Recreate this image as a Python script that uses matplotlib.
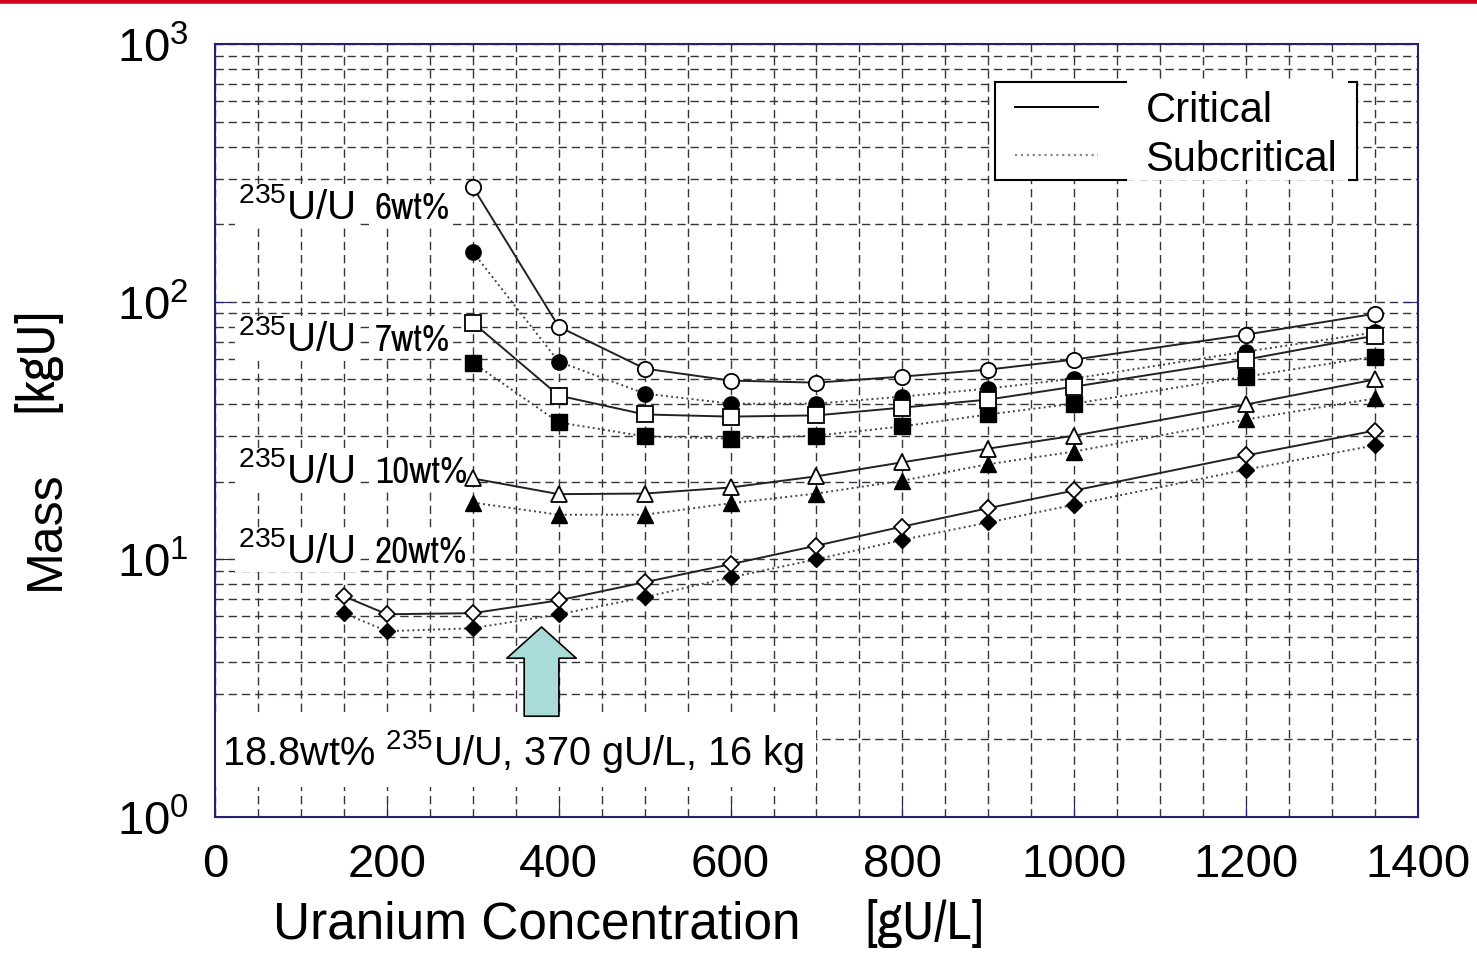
import numpy as np
import matplotlib
matplotlib.use("Agg")
import matplotlib.pyplot as plt
from matplotlib.ticker import MultipleLocator, LogLocator, NullFormatter
from matplotlib.lines import Line2D
from matplotlib.patches import Rectangle
from matplotlib import font_manager

plt.rcParams['font.family'] = ['Liberation Sans', 'DejaVu Sans']
plt.rcParams['mathtext.fontset'] = 'custom'
plt.rcParams['mathtext.rm'] = 'Liberation Sans'
plt.rcParams['mathtext.it'] = 'Liberation Sans'

# narrow font for the unit / wt% labels, if one is available
narrow = 'Liberation Sans'
for f in font_manager.fontManager.ttflist:
    if 'Condensed' in f.name or 'Narrow' in f.name:
        narrow = f.name
        break

# uranium concentration [gU/L]
conc = [300, 400, 500, 600, 700, 800, 900, 1000, 1200, 1350]
conc20 = [150, 200, 300, 400, 500, 600, 700, 800, 900, 1000, 1200, 1350]

# mass [kgU]
crit6 = [279, 80, 55, 49.4, 48.5, 51.2, 54.5, 59.6, 74.5, 89.8]
sub6 = [156, 58.5, 44, 40.2, 40.2, 42.8, 46, 50.3, 64, 76]
crit7 = [83, 43.2, 36.5, 35.8, 36.2, 38.8, 41.7, 46.8, 59.6, 73.8]
sub7 = [58, 34, 30, 29.4, 30.2, 32.8, 36.5, 40.2, 51.2, 61.2]
crit10 = [20.6, 17.9, 18, 19, 21, 23.8, 26.9, 30.2, 39.9, 49.9]
sub10 = [16.6, 14.9, 14.9, 16.5, 18, 20.2, 23.4, 26.2, 34.9, 42.1]
crit20 = [7.19, 6.12, 6.18, 6.93, 8.15, 9.57, 11.3, 13.4, 15.8, 18.5, 25.3, 31.6]
sub20 = [6.18, 5.26, 5.40, 6.12, 7.12, 8.51, 10, 11.9, 13.9, 16.3, 22.3, 27.7]

navy = '#23236b'
gridc = '#34343f'

fig = plt.figure(figsize=(14.77, 9.54), dpi=100)
ax = fig.add_axes([0.1456, 0.1426, 0.8144, 0.8102])

series = [
    (conc, crit6, sub6, 'o', 11),
    (conc, crit7, sub7, 's', 11),
    (conc, crit10, sub10, '^', 11),
    (conc20, crit20, sub20, 'D', 8),
]
for x, c, s, m, ms in series:
    ax.plot(x, s, ls=':', color='#444444', lw=1.4, zorder=3)
    ax.plot(x, c, ls='-', color='#222222', lw=1.4, zorder=3)
    ax.plot(x, s, ls='none', marker=m, ms=ms, mfc='black', mec='black', zorder=4)
    ax.plot(x, c, ls='none', marker=m, ms=ms, mfc='white', mec='black', mew=1.3, zorder=5)

ax.set_yscale('log')
ax.set_xlim(0, 1400)
ax.set_ylim(1, 1000)
ax.xaxis.set_major_locator(MultipleLocator(200))
ax.xaxis.set_minor_locator(MultipleLocator(50))
ax.yaxis.set_major_locator(LogLocator(base=10))
ax.yaxis.set_minor_locator(LogLocator(base=10, subs=np.arange(2, 10)))
ax.yaxis.set_minor_formatter(NullFormatter())
ax.grid(True, which='both', ls=(0, (6, 3.5)), color=gridc, lw=1.0)
ax.tick_params(which='both', direction='in', colors=navy, labelcolor='black',
               labelsize=34, top=False, right=True)
ax.tick_params(which='major', length=10)
ax.tick_params(which='minor', length=0)
ax.tick_params(axis='x', pad=18)
ax.tick_params(axis='y', pad=19)
for sp in ax.spines.values():
    sp.set_color(navy)
    sp.set_linewidth(1.5)

# axis labels
fig.text(0.185, 0.016, 'Uranium Concentration', fontsize=37, ha='left', va='baseline')
fig.text(0.586, 0.016, '[gU/L]', fontsize=39, ha='left', va='baseline',
         family=narrow, fontstretch='condensed')
fig.text(0.031, 0.444, 'Mass', fontsize=36, rotation=90, ha='center', va='center')
fig.text(0.025, 0.623, '[kgU]', fontsize=39, rotation=90, ha='center', va='center',
         family=narrow, fontstretch='condensed')

# enrichment labels
labels = ['6wt%', '7wt%', '10wt%', '20wt%']
label_y = [212, 65, 20, 9.8]
wbox = dict(facecolor='white', edgecolor='none', pad=2)
for lab, yv in zip(labels, label_y):
    ax.text(27, yv, r'$^{235}$U/U', fontsize=29, va='baseline', ha='left',
            bbox=wbox, zorder=2)
    ax.text(186, yv, lab, fontsize=23 if narrow == 'Liberation Sans' else 27,
            va='baseline', ha='left', bbox=wbox, zorder=2,
            family=narrow, fontstretch='condensed')

# arrow and note
ax.annotate('', xy=(380, 5.6), xytext=(380, 2.4),
            arrowprops=dict(arrowstyle='simple,head_length=0.9,head_width=2.0,tail_width=1.0',
                            mutation_scale=25, fc='#a9dcd8', ec='black', lw=1.2), zorder=6)
ax.text(8, 1.6, r'18.8wt% $^{235}$U/U, 370 gU/L, 16 kg', fontsize=28.6, va='baseline',
        ha='left', bbox=dict(facecolor='white', edgecolor='none', pad=9), zorder=2)

# legend
T = ax.transAxes
ax.add_patch(Rectangle((0.648, 0.824), 0.301, 0.127, transform=T, facecolor='white',
                       edgecolor='none', zorder=6))
h1 = Line2D([], [], color='black', lw=1.4)
h2 = Line2D([], [], color='#888888', lw=1.6, ls=':')
leg = ax.legend([h1, h2], ['Critical', 'Subcritical'], loc='upper left',
                bbox_to_anchor=(0.665, 0.940), fontsize=30, handlelength=2.0,
                handletextpad=1.13, labelspacing=0.2, borderpad=0.0,
                borderaxespad=0.0, frameon=False)
leg.set_zorder(7)
for xs, ys in [((0.648, 0.648), (0.824, 0.951)),
               ((0.648, 0.757), (0.951, 0.951)),
               ((0.648, 0.757), (0.824, 0.824)),
               ((0.949, 0.949), (0.824, 0.951)),
               ((0.943, 0.949), (0.951, 0.951)),
               ((0.943, 0.949), (0.824, 0.824))]:
    ax.add_line(Line2D(xs, ys, transform=T, color='black', lw=1.5, zorder=8))

# red rule at top
fig.add_artist(Line2D([0, 1], [0.9975, 0.9975], transform=fig.transFigure,
                      color='#d3001c', lw=4))

fig.savefig('out.png', dpi=100)
